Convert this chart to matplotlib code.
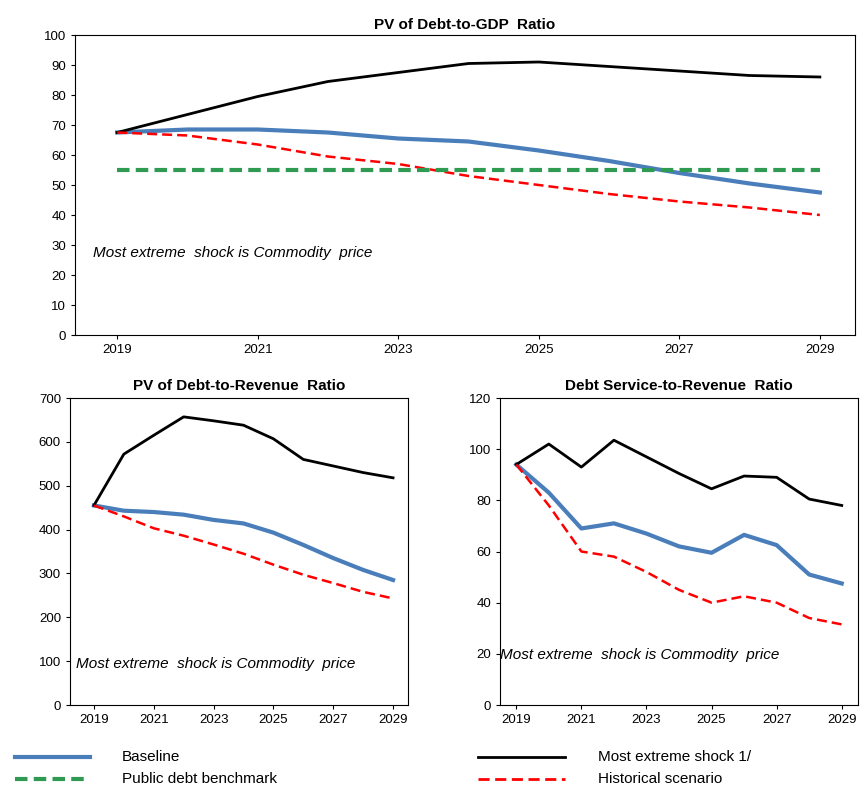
import matplotlib.pyplot as plt

plt.rcParams['font.family'] = ['Liberation Sans', 'DejaVu Sans']
plt.rcParams['font.size'] = 9

years = list(range(2019, 2030))

gdp_base = [67.5, 68.5, 68.5, 67.5, 65.5, 64.5, 61.5, 58, 54, 50.5, 47.5]
gdp_shock = [67.5, 73.5, 79.5, 84.5, 87.5, 90.5, 91, 89.5, 88, 86.5, 86]
gdp_hist = [67.5, 66.5, 63.5, 59.5, 57, 53, 50, 47, 44.5, 42.5, 40]
gdp_bench = [55] * 11

rev_base = [455, 443, 440, 434, 422, 414, 393, 365, 335, 308, 285]
rev_shock = [455, 572, 615, 657, 648, 638, 607, 560, 545, 530, 518]
rev_hist = [455, 430, 403, 386, 366, 345, 320, 297, 278, 258, 243]

ds_base = [94, 83, 69, 71, 67, 62, 59.5, 66.5, 62.5, 51, 47.5]
ds_shock = [94, 102, 93, 103.5, 97, 90.5, 84.5, 89.5, 89, 80.5, 78]
ds_hist = [94, 78, 60, 58, 52, 45, 40, 42.5, 40, 34, 31.5]

blue = '#4a7ebb'
green = '#2e9a52'

fig = plt.figure(figsize=(8.67, 7.87), dpi=100)
ax1 = fig.add_axes([75/867, 1-335/787, 780/867, 300/787])
ax2 = fig.add_axes([70/867, 1-705/787, 338/867, 307/787])
ax3 = fig.add_axes([500/867, 1-705/787, 358/867, 307/787])

def draw(ax, base, shock, hist, bench=None):
    ax.plot(years, base, color=blue, lw=3)
    ax.plot(years, shock, color='black', lw=2)
    ax.plot(years, hist, color='red', lw=1.8, ls=(0, (4, 2)))
    if bench is not None:
        ax.plot(years, bench, color=green, lw=3, ls=(0, (3, 1.5)))
    ax.set_xticks(range(2019, 2030, 2))
    ax.tick_params(length=3, labelsize=9.5)

note = 'Most extreme  shock is Commodity  price'

draw(ax1, gdp_base, gdp_shock, gdp_hist, gdp_bench)
ax1.set_xlim(2018.4, 2029.5)
ax1.set_ylim(0, 100)
ax1.set_yticks(range(0, 101, 10))
ax1.set_title('PV of Debt-to-GDP  Ratio', fontweight='bold', fontsize=11, pad=4)
ax1.text(2018.65, 26, note, fontstyle='italic', fontsize=11)

draw(ax2, rev_base, rev_shock, rev_hist)
ax2.set_xlim(2018.2, 2029.5)
ax2.set_ylim(0, 700)
ax2.set_yticks(range(0, 701, 100))
ax2.set_title('PV of Debt-to-Revenue  Ratio', fontweight='bold', fontsize=11, pad=6)
ax2.text(2018.4, 85, note, fontstyle='italic', fontsize=11)

draw(ax3, ds_base, ds_shock, ds_hist)
ax3.set_xlim(2018.5, 2029.5)
ax3.set_ylim(0, 120)
ax3.set_yticks(range(0, 121, 20))
ax3.set_title('Debt Service-to-Revenue  Ratio', fontweight='bold', fontsize=11, pad=6)
ax3.text(2018.5, 18, note, fontstyle='italic', fontsize=11)

# legend
def leg(x0, x1, y, tx, label, **kw):
    fig.add_artist(plt.Line2D([x0/867, x1/867], [1-y/787, 1-y/787], **kw))
    fig.text(tx/867, 1-y/787, label, va='center', fontsize=11)

leg(15, 90, 757, 122, 'Baseline', color=blue, lw=3)
leg(15, 90, 779, 122, 'Public debt benchmark', color=green, lw=3, ls=(0, (3, 1.5)))
leg(478, 565, 757, 598, 'Most extreme shock 1/', color='black', lw=2)
leg(478, 565, 779, 598, 'Historical scenario', color='red', lw=2, ls=(0, (4, 2)))

fig.savefig('out.png', dpi=100)
